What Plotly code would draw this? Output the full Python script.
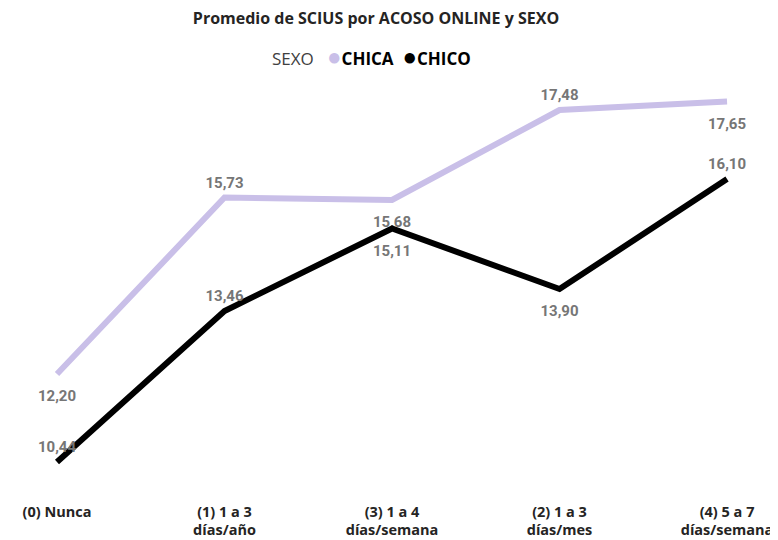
import plotly.graph_objects as go

categories = ["(0) Nunca", "(1) 1 a 3<br>días/año", "(3) 1 a 4<br>días/semana",
              "(2) 1 a 3<br>días/mes", "(4) 5 a 7<br>días/semana"]
chica = [12.20, 15.73, 15.68, 17.48, 17.65]
chico = [10.44, 13.46, 15.11, 13.90, 16.10]
chica_pos = ["bottom center", "top center", "bottom center", "top center", "bottom center"]
chico_pos = ["top center", "top center", "bottom center", "bottom center", "top center"]

def fmt(v):
    return f"{v:.2f}".replace(".", ",")

def pad(positions):
    # invisible marker sizes to push labels away from the line
    return [24 if p.startswith("bottom") else 8 for p in positions]

CHICA_COLOR = "#C9BFE8"
CHICO_COLOR = "#000000"
LABEL_FONT = dict(family="Roboto", size=15, color="#767676", weight="bold")

fig = go.Figure()
fig.add_trace(go.Scatter(x=categories, y=chica, mode="lines+markers+text", name="CHICA",
                         line=dict(color=CHICA_COLOR, width=6),
                         marker=dict(size=pad(chica_pos), color="rgba(0,0,0,0)",
                                     line=dict(width=0, color="rgba(0,0,0,0)")),
                         text=[fmt(v) for v in chica], textposition=chica_pos,
                         textfont=LABEL_FONT, showlegend=False, cliponaxis=False))
fig.add_trace(go.Scatter(x=categories, y=chico, mode="lines+markers+text", name="CHICO",
                         line=dict(color=CHICO_COLOR, width=6),
                         marker=dict(size=pad(chico_pos), color="rgba(0,0,0,0)",
                                     line=dict(width=0, color="rgba(0,0,0,0)")),
                         text=[fmt(v) for v in chico], textposition=chico_pos,
                         textfont=LABEL_FONT, showlegend=False, cliponaxis=False))

legend_text = ("<span style='color:#404040'>SEXO</span>   "
               f"<span style='color:{CHICA_COLOR};font-size:24px'>●</span><b>CHICA</b>  "
               f"<span style='color:{CHICO_COLOR};font-size:24px'>●</span><b>CHICO</b>")

fig.update_layout(
    width=778, height=540,
    margin=dict(l=0, r=0, t=72, b=47),
    paper_bgcolor="white", plot_bgcolor="white",
    showlegend=False,
    title=dict(text="<b>Promedio de SCIUS por ACOSO ONLINE y SEXO</b>",
               x=0.473, xanchor="center", y=0.981, yanchor="middle",
               font=dict(family="Open Sans", size=16, color="#252423")),
    annotations=[dict(text=legend_text, xref="paper", yref="paper",
                      x=0.467, y=1.058, xanchor="center", yanchor="middle",
                      showarrow=False,
                      font=dict(family="Open Sans", size=17, color="#000000"))],
    xaxis=dict(type="category", range=[-0.2925, 4.352], showgrid=False, zeroline=False,
               showline=False, ticks="",
               tickfont=dict(family="Open Sans", size=14.5, color="#252423", weight="bold")),
    yaxis=dict(range=[9.66, 18.08], showgrid=False, zeroline=False, showline=False,
               showticklabels=False, ticks=""),
)
fig.write_html("out.html")
